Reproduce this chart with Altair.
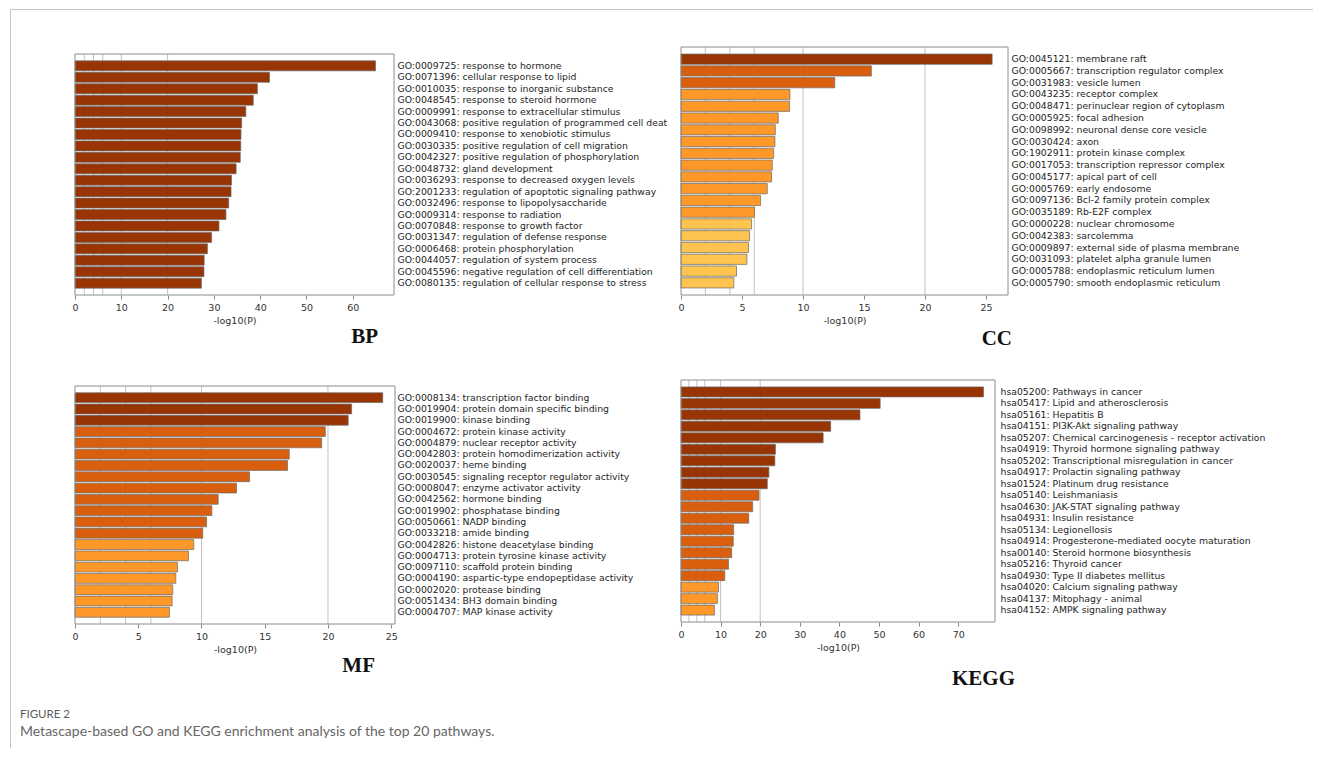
import altair as alt
import pandas as pd

FONT = "DejaVu Sans"

# ---------------- data ----------------
bp_terms = [
    "GO:0009725: response to hormone",
    "GO:0071396: cellular response to lipid",
    "GO:0010035: response to inorganic substance",
    "GO:0048545: response to steroid hormone",
    "GO:0009991: response to extracellular stimulus",
    "GO:0043068: positive regulation of programmed cell deat",
    "GO:0009410: response to xenobiotic stimulus",
    "GO:0030335: positive regulation of cell migration",
    "GO:0042327: positive regulation of phosphorylation",
    "GO:0048732: gland development",
    "GO:0036293: response to decreased oxygen levels",
    "GO:2001233: regulation of apoptotic signaling pathway",
    "GO:0032496: response to lipopolysaccharide",
    "GO:0009314: response to radiation",
    "GO:0070848: response to growth factor",
    "GO:0031347: regulation of defense response",
    "GO:0006468: protein phosphorylation",
    "GO:0044057: regulation of system process",
    "GO:0045596: negative regulation of cell differentiation",
    "GO:0080135: regulation of cellular response to stress",
]
bp_vals = [64.9, 42.0, 39.4, 38.5, 36.9, 36.0, 35.85, 35.8, 35.7, 34.8,
           33.8, 33.7, 33.2, 32.6, 31.1, 29.5, 28.6, 27.9, 27.85, 27.3]

cc_terms = [
    "GO:0045121: membrane raft",
    "GO:0005667: transcription regulator complex",
    "GO:0031983: vesicle lumen",
    "GO:0043235: receptor complex",
    "GO:0048471: perinuclear region of cytoplasm",
    "GO:0005925: focal adhesion",
    "GO:0098992: neuronal dense core vesicle",
    "GO:0030424: axon",
    "GO:1902911: protein kinase complex",
    "GO:0017053: transcription repressor complex",
    "GO:0045177: apical part of cell",
    "GO:0005769: early endosome",
    "GO:0097136: Bcl-2 family protein complex",
    "GO:0035189: Rb-E2F complex",
    "GO:0000228: nuclear chromosome",
    "GO:0042383: sarcolemma",
    "GO:0009897: external side of plasma membrane",
    "GO:0031093: platelet alpha granule lumen",
    "GO:0005788: endoplasmic reticulum lumen",
    "GO:0005790: smooth endoplasmic reticulum",
]
cc_vals = [25.5, 15.6, 12.6, 8.93, 8.9, 7.97, 7.73, 7.7, 7.59, 7.48,
           7.42, 7.07, 6.52, 6.02, 5.78, 5.62, 5.53, 5.4, 4.55, 4.33]

mf_terms = [
    "GO:0008134: transcription factor binding",
    "GO:0019904: protein domain specific binding",
    "GO:0019900: kinase binding",
    "GO:0004672: protein kinase activity",
    "GO:0004879: nuclear receptor activity",
    "GO:0042803: protein homodimerization activity",
    "GO:0020037: heme binding",
    "GO:0030545: signaling receptor regulator activity",
    "GO:0008047: enzyme activator activity",
    "GO:0042562: hormone binding",
    "GO:0019902: phosphatase binding",
    "GO:0050661: NADP binding",
    "GO:0033218: amide binding",
    "GO:0042826: histone deacetylase binding",
    "GO:0004713: protein tyrosine kinase activity",
    "GO:0097110: scaffold protein binding",
    "GO:0004190: aspartic-type endopeptidase activity",
    "GO:0002020: protease binding",
    "GO:0051434: BH3 domain binding",
    "GO:0004707: MAP kinase activity",
]
mf_vals = [24.33, 21.87, 21.6, 19.79, 19.5, 16.94, 16.8, 13.8, 12.77, 11.32,
           10.82, 10.4, 10.1, 9.39, 8.97, 8.1, 7.97, 7.73, 7.68, 7.47]

kegg_terms = [
    "hsa05200: Pathways in cancer",
    "hsa05417: Lipid and atherosclerosis",
    "hsa05161: Hepatitis B",
    "hsa04151: PI3K-Akt signaling pathway",
    "hsa05207: Chemical carcinogenesis - receptor activation",
    "hsa04919: Thyroid hormone signaling pathway",
    "hsa05202: Transcriptional misregulation in cancer",
    "hsa04917: Prolactin signaling pathway",
    "hsa01524: Platinum drug resistance",
    "hsa05140: Leishmaniasis",
    "hsa04630: JAK-STAT signaling pathway",
    "hsa04931: Insulin resistance",
    "hsa05134: Legionellosis",
    "hsa04914: Progesterone-mediated oocyte maturation",
    "hsa00140: Steroid hormone biosynthesis",
    "hsa05216: Thyroid cancer",
    "hsa04930: Type II diabetes mellitus",
    "hsa04020: Calcium signaling pathway",
    "hsa04137: Mitophagy - animal",
    "hsa04152: AMPK signaling pathway",
]
kegg_vals = [76.4, 50.3, 45.2, 37.8, 35.9, 23.85, 23.7, 22.2, 21.8, 19.7,
             18.1, 17.1, 13.3, 13.2, 12.8, 12.0, 11.05, 9.46, 9.2, 8.45]

bp_ticks = [0, 10, 20, 30, 40, 50, 60]
cc_ticks = [0, 5, 10, 15, 20, 25]
mf_ticks = [0, 5, 10, 15, 20, 25]
kegg_ticks = [0, 10, 20, 30, 40, 50, 60, 70]

grid_lines = [2, 4, 6, 10, 20]
color_breaks = [6, 10, 20]
color_range = ["#FEC44F", "#FE9929", "#D95F0E", "#993404"]

caption_head = "FIGURE 2"
caption_text = "Metascape-based GO and KEGG enrichment analysis of the top 20 pathways."

PAGE_LINE = "#c4c4c4"
BOX = "#8c8c8c"
one = pd.DataFrame({"a": [0]})


def page_bar(x1, x2, y1, y2):
    # thin filled strip used for the page frame lines
    return alt.Chart(one).mark_rect(color=PAGE_LINE).encode(
        x=alt.value(x1), x2=alt.value(x2), y=alt.value(y1), y2=alt.value(y2))


def panel(terms, vals, xmax, ticks, width, height, top, label_pad,
          title, title_dx, title_dy, extra=()):
    df = pd.DataFrame({"term": terms, "val": vals})
    xscale = alt.Scale(domain=[0, xmax], nice=False, zero=True)
    xaxis = alt.Axis(values=ticks, format="d", title="-log10(P)",
                     grid=False, domain=False, tickSize=4, tickColor="#888888",
                     labelFont=FONT, labelFontSize=9.5, labelColor="#333333",
                     labelPadding=3, labelFlush=False,
                     titleFont=FONT, titleFontSize=9.5, titleFontWeight="normal",
                     titleColor="#333333", titlePadding=4)
    grid = alt.Chart(pd.DataFrame({"val": grid_lines})).mark_rule(
        color="#c2c2c2", strokeWidth=1).encode(
        x=alt.X("val:Q", scale=xscale, axis=xaxis),
        y=alt.value(top), y2=alt.value(height))
    bars = alt.Chart(df).mark_bar(stroke="#6a6a6a", strokeWidth=0.7).encode(
        x=alt.X("val:Q", scale=xscale, axis=xaxis),
        y=alt.Y("term:N", sort=terms,
                scale=alt.Scale(range=[top, height], paddingInner=0.13,
                                paddingOuter=0.6),
                axis=alt.Axis(orient="right", title=None, ticks=False,
                              domain=False, labelPadding=label_pad,
                              labelFont=FONT, labelFontSize=9.3,
                              labelColor="#1e1e1e", labelLimit=500)),
        color=alt.Color("val:Q", legend=None,
                        scale=alt.Scale(type="threshold", domain=color_breaks,
                                        range=color_range)))
    frame = alt.Chart(one).mark_rect(fill="transparent", stroke=BOX,
                                     strokeWidth=1).encode(
        x=alt.value(0), x2=alt.value(width), y=alt.value(top),
        y2=alt.value(height))
    ttl = alt.Chart(pd.DataFrame({"t": [title]})).mark_text(
        font="Liberation Serif", fontWeight="bold", fontSize=21,
        align="right", baseline="alphabetic", color="#111111").encode(
        x=alt.value(width + title_dx), y=alt.value(height + title_dy),
        text="t:N")
    return alt.layer(grid, bars, frame, ttl, *extra).properties(
        width=width, height=height)


# page frame lines (relative to BP cell / MF cell) and caption (MF cell)
bp_extra = [page_bar(-65, -64, -38, 335), page_bar(-65, 1238, -38, -37)]
mf_extra = [
    page_bar(-65, -64, -5, 368),
    alt.Chart(pd.DataFrame({"t": [caption_head]})).mark_text(
        font="Lato", fontSize=11.5, align="left", baseline="alphabetic",
        color="#5b5b5b").encode(x=alt.value(-55), y=alt.value(338), text="t:N"),
    alt.Chart(pd.DataFrame({"t": [caption_text]})).mark_text(
        font="Lato", fontSize=14, align="left", baseline="alphabetic",
        color="#666666").encode(x=alt.value(-55), y=alt.value(356), text="t:N"),
]

bp = panel(bp_terms, bp_vals, 68.9, bp_ticks, 319, 248, 7, 3, "BP", -16, 48, bp_extra)
cc = panel(cc_terms, cc_vals, 26.8, cc_ticks, 327, 248, 0, 3, "CC", 4, 50)
mf = panel(mf_terms, mf_vals, 25.3, mf_ticks, 320, 244, 6, 2, "MF", -20, 48, mf_extra)
kegg = panel(kegg_terms, kegg_vals, 79.3, kegg_ticks, 314, 242, 0, 5, "KEGG", 20, 63)

chart = alt.concat(
    bp, cc, mf, kegg, columns=2, bounds="flush", align="all",
    spacing={"row": 85, "column": 279},
).properties(
    padding={"left": 2, "top": 1, "right": 0, "bottom": 0}
).configure_view(stroke=None)

chart.save("out.html", embed_options={"renderer": "svg", "actions": False})
